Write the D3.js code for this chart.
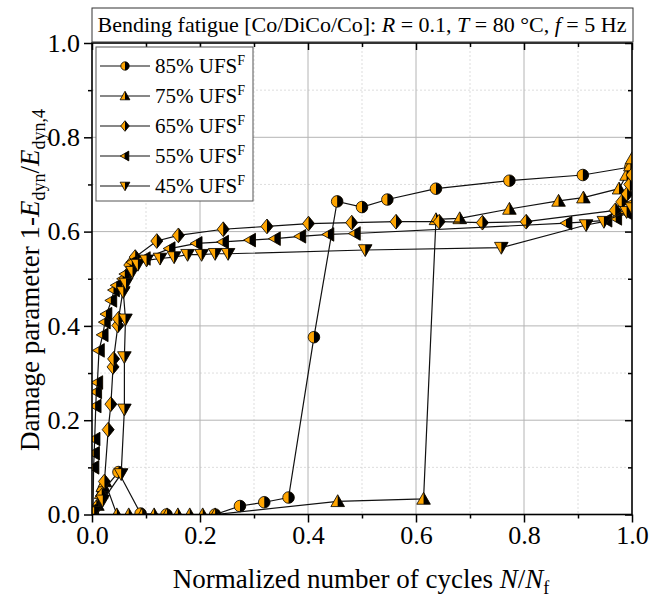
<!DOCTYPE html>
<html><head><meta charset="utf-8">
<script src="https://cdn.jsdelivr.net/npm/d3@7"></script>
<style>
body{margin:0;background:#fff}
svg{display:block}
text{font-family:"Liberation Serif","Times New Roman",serif;fill:#000}
</style>
</head><body>
<svg id="c" width="661" height="598"></svg>
<script>
// ---------- data ----------
const seriesNames = ["85% UFS", "75% UFS", "65% UFS", "55% UFS", "45% UFS"];
const seriesShapes = ["circle", "triangleUp", "diamond", "triangleLeft", "triangleDown"];

const x85 = [0, 0.02, 0.049, 0.09, 0.138, 0.228, 0.274, 0.319, 0.364, 0.411, 0.454, 0.5, 0.547, 0.637, 0.773, 0.909, 0.997];
const y85 = [0, 0.05, 0.09, 0.002, 0.0, 0.0, 0.018, 0.026, 0.036, 0.376, 0.664, 0.652, 0.668, 0.691, 0.708, 0.720, 0.737];

const x75 = [0, 0.004, 0.01, 0.017, 0.02, 0.024, 0.046, 0.068, 0.093, 0.115, 0.139, 0.159, 0.181, 0.205, 0.228, 0.455, 0.614, 0.637, 0.681, 0.773, 0.864, 0.91, 0.976, 0.99, 0.997, 1.0];
const y75 = [0, 0.005, 0.02, 0.045, 0.06, 0.07, 0.0, 0.0, 0.0, 0.0, 0.0, 0.0, 0.0, 0.0, 0.0, 0.028, 0.033, 0.626, 0.628, 0.648, 0.665, 0.672, 0.691, 0.72, 0.74, 0.755];

const x65 = [0, 0.008, 0.018, 0.023, 0.03, 0.035, 0.039, 0.04, 0.048, 0.049, 0.058, 0.067, 0.07, 0.08, 0.12, 0.16, 0.243, 0.324, 0.401, 0.481, 0.563, 0.643, 0.723, 0.804, 0.969, 0.981, 0.991, 0.996, 1.0];
const y65 = [0, 0.015, 0.04, 0.07, 0.18, 0.234, 0.313, 0.33, 0.401, 0.415, 0.479, 0.511, 0.529, 0.546, 0.58, 0.592, 0.605, 0.611, 0.617, 0.619, 0.621, 0.621, 0.619, 0.621, 0.645, 0.663, 0.68, 0.70, 0.72];

const x55 = [0, 0.002, 0.003, 0.004, 0.005, 0.007, 0.008, 0.01, 0.013, 0.02, 0.024, 0.027, 0.036, 0.041, 0.046, 0.058, 0.062, 0.075, 0.098, 0.144, 0.194, 0.243, 0.293, 0.339, 0.386, 0.438, 0.487, 0.879, 0.953, 0.971, 0.99, 1.0];
const y55 = [0, 0.01, 0.1, 0.13, 0.16, 0.23, 0.26, 0.28, 0.348, 0.381, 0.408, 0.425, 0.454, 0.476, 0.486, 0.50, 0.51, 0.535, 0.543, 0.564, 0.575, 0.578, 0.582, 0.585, 0.59, 0.594, 0.596, 0.618, 0.624, 0.628, 0.64, 0.66];

const x45 = [0, 0.004, 0.02, 0.054, 0.06, 0.06, 0.062, 0.058, 0.063, 0.075, 0.085, 0.101, 0.126, 0.152, 0.177, 0.203, 0.228, 0.252, 0.506, 0.758, 0.915, 0.948, 0.99, 1.0];
const y45 = [0, 0.005, 0.03, 0.086, 0.223, 0.334, 0.414, 0.472, 0.49, 0.515, 0.53, 0.539, 0.543, 0.546, 0.551, 0.551, 0.553, 0.553, 0.561, 0.566, 0.614, 0.621, 0.642, 0.65];

const majorTicks = [0, 0.2, 0.4, 0.6, 0.8, 1.0];
const minorTicks = [0.1, 0.3, 0.5, 0.7, 0.9];

// ---------- setup ----------
const svg = d3.select("#c");
const L = 92, R = 632, T = 43, B = 514.5;
const x = d3.scaleLinear().domain([0, 1]).range([L, R]);
const y = d3.scaleLinear().domain([0, 1]).range([B, T]);
const ORANGE = "#FFA500";

const allX = [x85, x75, x65, x55, x45];
const allY = [y85, y75, y65, y55, y45];
const series = seriesNames.map((n, i) => ({
  name: n, shape: seriesShapes[i],
  pts: allX[i].map((v, j) => [v, allY[i][j]])
}));

const defs = svg.append("defs");
defs.append("clipPath").attr("id", "rh").attr("clipPathUnits", "objectBoundingBox")
  .append("rect").attr("x", 0.5).attr("y", -0.1).attr("width", 0.6).attr("height", 1.2);
defs.append("clipPath").attr("id", "area")
  .append("rect").attr("x", L).attr("y", T).attr("width", R - L).attr("height", B - T);

// ---------- grid ----------
const grid = svg.append("g");
grid.selectAll(".mx").data(minorTicks).join("line")
  .attr("x1", d => x(d)).attr("x2", d => x(d)).attr("y1", T).attr("y2", B)
  .attr("stroke", "#d4d4d4").attr("stroke-width", 0.8).attr("stroke-dasharray", "2,2");
grid.selectAll(".my").data(minorTicks).join("line")
  .attr("y1", d => y(d)).attr("y2", d => y(d)).attr("x1", L).attr("x2", R)
  .attr("stroke", "#d4d4d4").attr("stroke-width", 0.8).attr("stroke-dasharray", "2,2");
grid.selectAll(".Mx").data(majorTicks.slice(1, -1)).join("line")
  .attr("x1", d => x(d)).attr("x2", d => x(d)).attr("y1", T).attr("y2", B)
  .attr("stroke", "#b4b4b4").attr("stroke-width", 1);
grid.selectAll(".My").data(majorTicks.slice(1, -1)).join("line")
  .attr("y1", d => y(d)).attr("y2", d => y(d)).attr("x1", L).attr("x2", R)
  .attr("stroke", "#b4b4b4").attr("stroke-width", 1);

// ---------- axes ----------
function styleAxis(g) {
  g.select(".domain").remove();
  g.selectAll(".tick line").attr("stroke", "#000").attr("stroke-width", 1.5);
  g.selectAll(".tick text").style("font-family", "'Liberation Serif', serif").attr("font-size", 26).attr("fill", "#000");
}
svg.append("g").attr("transform", `translate(0,${B})`)
  .call(d3.axisBottom(x).tickValues(majorTicks).tickFormat(d3.format(".1f")).tickSize(8).tickPadding(3))
  .call(styleAxis);
svg.append("g").attr("transform", `translate(0,${B})`)
  .call(d3.axisBottom(x).tickValues(minorTicks).tickFormat("").tickSize(4)).call(styleAxis);
svg.append("g").attr("transform", `translate(${L},0)`)
  .call(d3.axisLeft(y).tickValues(majorTicks).tickFormat(d3.format(".1f")).tickSize(8).tickPadding(4))
  .call(styleAxis);
svg.append("g").attr("transform", `translate(${L},0)`)
  .call(d3.axisLeft(y).tickValues(minorTicks).tickFormat("").tickSize(4)).call(styleAxis);
// mirrored inward ticks
svg.append("g").attr("transform", `translate(0,${T})`)
  .call(d3.axisBottom(x).tickValues(majorTicks).tickFormat("").tickSize(7)).call(styleAxis);
svg.append("g").attr("transform", `translate(0,${T})`)
  .call(d3.axisBottom(x).tickValues(minorTicks).tickFormat("").tickSize(4)).call(styleAxis);
svg.append("g").attr("transform", `translate(${R},0)`)
  .call(d3.axisLeft(y).tickValues(majorTicks).tickFormat("").tickSize(7)).call(styleAxis);
svg.append("g").attr("transform", `translate(${R},0)`)
  .call(d3.axisLeft(y).tickValues(minorTicks).tickFormat("").tickSize(4)).call(styleAxis);

// ---------- marker shapes ----------
function shapePath(shape, k) {
  const p = d3.path();
  if (shape === "circle") {
    const r = 5.8 * k; p.moveTo(r, 0); p.arc(0, 0, r, 0, 2 * Math.PI);
  } else if (shape === "triangleUp") {
    const w = 6.8 * k, h = 6.6 * k; p.moveTo(0, -h); p.lineTo(w, h * 0.8); p.lineTo(-w, h * 0.8);
  } else if (shape === "triangleDown") {
    const w = 6.8 * k, h = 6.6 * k; p.moveTo(0, h); p.lineTo(w, -h * 0.8); p.lineTo(-w, -h * 0.8);
  } else if (shape === "diamond") {
    const w = 6 * k, h = 7.4 * k; p.moveTo(0, -h); p.lineTo(w, 0); p.lineTo(0, h); p.lineTo(-w, 0);
  } else if (shape === "triangleLeft") {
    const w = 6.6 * k, h = 6.8 * k; p.moveTo(-w, 0); p.lineTo(w * 0.8, -h); p.lineTo(w * 0.8, h);
  }
  p.closePath();
  return p.toString();
}
function drawMarker(g, shape, k) {
  const d = shapePath(shape, k);
  g.append("path").attr("d", d).attr("fill", ORANGE).attr("stroke", "none");
  g.append("path").attr("d", d).attr("fill", "#000").attr("clip-path", "url(#rh)");
  g.append("path").attr("d", d).attr("fill", "none").attr("stroke", "#000").attr("stroke-width", 0.8);
}

// ---------- series ----------
const line = d3.line().x(d => x(d[0])).y(d => y(d[1]));
const plot = svg.append("g").attr("clip-path", "url(#area)");
series.forEach(s => {
  const g = plot.append("g");
  g.append("path").attr("d", line(s.pts)).attr("fill", "none").attr("stroke", "#111").attr("stroke-width", 1.2);
  s.pts.forEach(p => {
    const mg = g.append("g").attr("transform", `translate(${x(p[0])},${y(p[1])})`);
    drawMarker(mg, s.shape, 1);
  });
});

// ---------- frame ----------
svg.append("rect").attr("x", L).attr("y", T).attr("width", R - L).attr("height", B - T)
  .attr("fill", "none").attr("stroke", "#000").attr("stroke-width", 1.6);

// ---------- legend ----------
const lg = svg.append("g");
lg.append("rect").attr("x", 96).attr("y", 47).attr("width", 157).attr("height", 154)
  .attr("fill", "#fff").attr("stroke", "#555").attr("stroke-width", 1);
series.forEach((s, i) => {
  const cy = 66 + i * 30;
  lg.append("line").attr("x1", 100).attr("x2", 150).attr("y1", cy).attr("y2", cy)
    .attr("stroke", "#111").attr("stroke-width", 1.2);
  drawMarker(lg.append("g").attr("transform", `translate(125,${cy})`), s.shape, 0.72);
  const t = lg.append("text").attr("x", 155).attr("y", cy + 7).attr("font-size", 21);
  t.append("tspan").text(s.name);
  t.append("tspan").attr("dy", -8).attr("font-size", 14).text("F");
});

// ---------- title ----------
svg.append("rect").attr("x", 92).attr("y", 8).attr("width", 541).attr("height", 34)
  .attr("fill", "#fff").attr("stroke", "#333").attr("stroke-width", 1);
const tt = svg.append("text").attr("x", 362).attr("y", 32).attr("text-anchor", "middle").attr("font-size", 22);
tt.append("tspan").text("Bending fatigue [Co/DiCo/Co]: ");
tt.append("tspan").attr("font-style", "italic").text("R");
tt.append("tspan").text(" = 0.1, ");
tt.append("tspan").attr("font-style", "italic").text("T");
tt.append("tspan").text(" = 80 °C, ");
tt.append("tspan").attr("font-style", "italic").text("f");
tt.append("tspan").text(" = 5 Hz");

// ---------- axis titles ----------
const xl = svg.append("text").attr("x", 361).attr("y", 588).attr("text-anchor", "middle").attr("font-size", 27);
xl.append("tspan").text("Normalized number of cycles ");
xl.append("tspan").attr("font-style", "italic").text("N");
xl.append("tspan").text("/");
xl.append("tspan").attr("font-style", "italic").text("N");
xl.append("tspan").attr("font-size", 18).attr("dy", 6).text("f");

const yl = svg.append("text").attr("transform", "translate(39,280) rotate(-90)").attr("text-anchor", "middle").attr("font-size", 27);
yl.append("tspan").text("Damage parameter 1-");
yl.append("tspan").attr("font-style", "italic").text("E");
yl.append("tspan").attr("font-size", 18).attr("dy", 6).text("dyn");
yl.append("tspan").attr("dy", -6).text("/");
yl.append("tspan").attr("font-style", "italic").text("E");
yl.append("tspan").attr("font-size", 18).attr("dy", 6).text("dyn,4");
</script>
</body></html>
